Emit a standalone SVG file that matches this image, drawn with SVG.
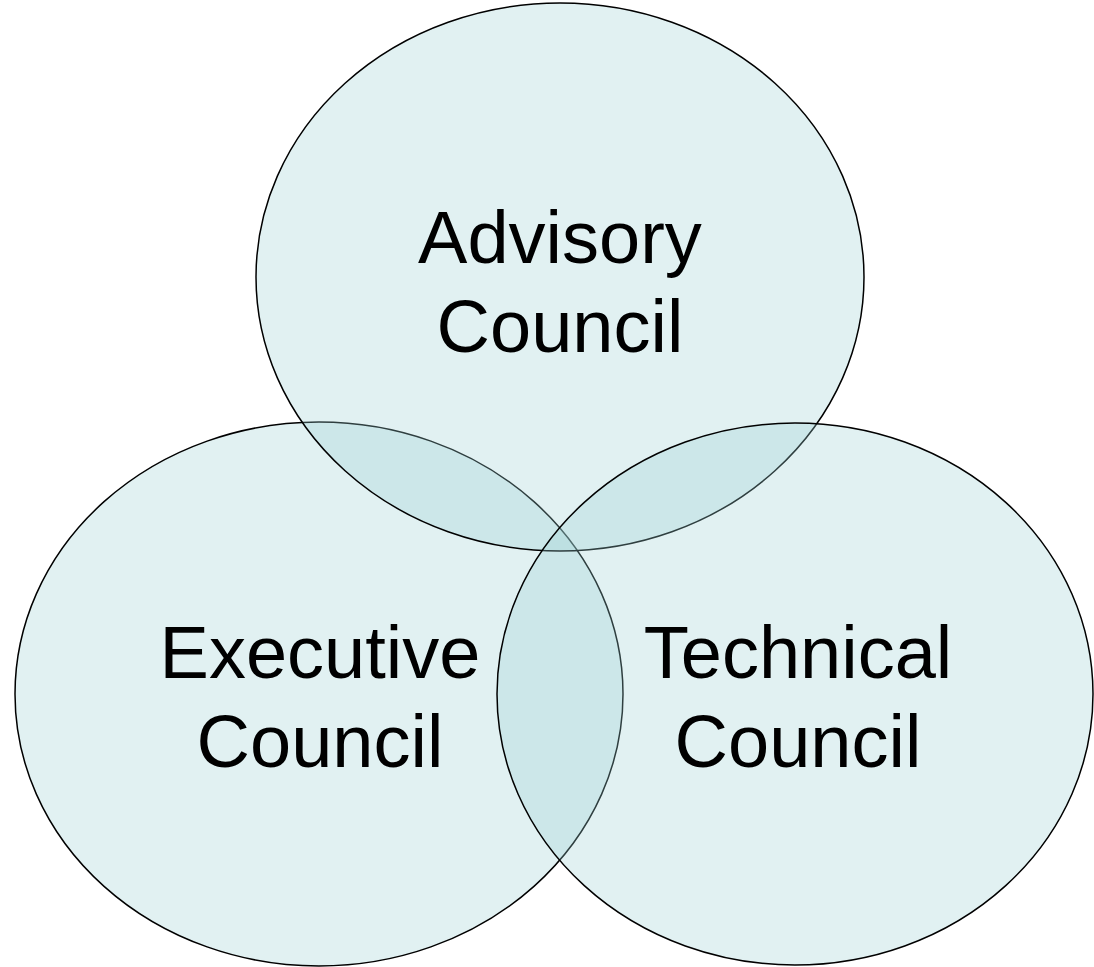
<svg xmlns="http://www.w3.org/2000/svg" width="1094" height="967" viewBox="0 0 1094 967">
<style>
.c{fill:#9ccfd3;fill-opacity:0.3;stroke:#000;stroke-width:1.5}
.t{font-family:"Liberation Sans",Arial,sans-serif;font-size:74px;fill:#000;text-anchor:middle}
</style>
<rect width="1094" height="967" fill="#fff"/>
<g id="executive">
<ellipse class="c" cx="319" cy="694" rx="304" ry="272"/>
<text class="t" x="320" y="678">Executive</text>
<text class="t" x="320" y="767">Council</text>
</g>
<g id="advisory">
<ellipse class="c" cx="560" cy="277" rx="304" ry="274"/>
<text class="t" x="560" y="263">Advisory</text>
<text class="t" x="560" y="352">Council</text>
</g>
<g id="technical">
<ellipse class="c" cx="795" cy="694" rx="298" ry="271"/>
<text class="t" x="798" y="678">Technical</text>
<text class="t" x="798" y="767">Council</text>
</g>
<g id="connectors"/>
</svg>
